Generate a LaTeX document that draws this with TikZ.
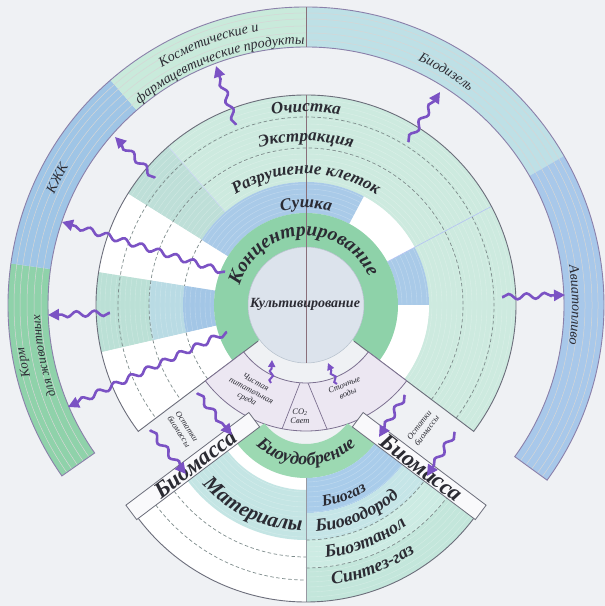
\documentclass[tikz,border=0pt]{standalone}
\usepackage{fontspec}
\setmainfont{Liberation Serif}
\usetikzlibrary{calc,decorations.pathmorphing,decorations.text,arrows.meta}

\definecolor{bg}{HTML}{EFF1F4}
\definecolor{lgreen}{HTML}{CDEADF}
\definecolor{teal1}{HTML}{BEDFD8}
\definecolor{tealA}{HTML}{BBE0D6}
\definecolor{tealB}{HTML}{B9DBE4}
\definecolor{sush}{HTML}{A9CAE8}
\definecolor{sushD}{HTML}{A3C6E6}
\definecolor{conc}{HTML}{8ED2A9}
\definecolor{inner}{HTML}{DCE3EC}
\definecolor{innerline}{HTML}{B5C0CC}
\definecolor{edge}{HTML}{6B6D7A}
\definecolor{arr}{HTML}{7B52C4}
\definecolor{boxf}{HTML}{ECE7F2}
\definecolor{boxd}{HTML}{7C7090}
\definecolor{bandline}{HTML}{8B80AA}
\definecolor{korm}{HTML}{8FD2AA}
\definecolor{kzhk}{HTML}{9FC5E6}
\definecolor{kosm}{HTML}{C9EADB}
\definecolor{biod}{HTML}{BEE0E6}
\definecolor{avia}{HTML}{A8C8EA}
\definecolor{udob}{HTML}{9CD9B2}
\definecolor{mat}{HTML}{C4E5E4}
\definecolor{gaz}{HTML}{A9CCEA}
\definecolor{vod}{HTML}{C5E5E7}
\definecolor{etan}{HTML}{CCEBE3}
\definecolor{sint}{HTML}{C3E6DB}
\definecolor{txt}{HTML}{2B2B33}
\definecolor{vl}{HTML}{8A6F7A}
\definecolor{dsh}{HTML}{7E8C8C}

\newcommand\annsec[6]{\path[#1] ($(#2)+(#3:#5)$) arc[start angle=#3,end angle=#4,radius=#5] -- ($(#2)+(#4:#6)$) arc[start angle=#4,end angle=#3,radius=#6] -- cycle;}
\newcommand\arctxt[6]{\path[decorate,decoration={text along path,text align=center,text color=txt,text={|#5|#6}}] ($(#1)+(#3:#2)$) arc[start angle=#3,end angle=#4,radius=#2];}

\newcommand\fntRing{\fontsize{17}{17}\selectfont\bfseries\itshape}
\newcommand\fntConc{\fontsize{19.5}{19.5}\selectfont\bfseries\itshape}
\newcommand\fntBand{\fontsize{14}{14}\selectfont\itshape}
\newcommand\fntKorm{\fontsize{13}{13}\selectfont\itshape}
\newcommand\fntBot{\fontsize{18}{18}\selectfont\bfseries\itshape}
\newcommand\fntGaz{\fontsize{16}{16}\selectfont\bfseries\itshape}
\newcommand\fntMat{\fontsize{21}{21}\selectfont\bfseries\itshape}
\newcommand\fntBio{\fontsize{23}{23}\selectfont\bfseries\itshape}
\newcommand\fntSmall{\fontsize{8.5}{9.5}\selectfont\itshape}
\newcommand\fntKult{\fontsize{14}{14}\selectfont\bfseries\itshape}

\tikzset{
  wavy/.style={draw=arr, line width=2.6pt, decorate,
    decoration={snake, amplitude=2.8pt, segment length=18pt, post length=8pt, pre length=1pt},
    -{Triangle[length=11pt,width=11pt]}},
  wavys/.style={draw=arr, line width=2pt, decorate,
    decoration={snake, amplitude=1.8pt, segment length=9pt, post length=5pt},
    -{Triangle[length=7pt,width=7pt]}},
  dshline/.style={draw=dsh, line width=0.7pt, dash pattern=on 3.5pt off 2.5pt},
  biobox/.style={fill=white!60!bg, draw=edge, line width=0.8pt},
  smalltxt/.style={font=\fntSmall, text=txt, align=center, inner sep=0pt},
}

\begin{document}
\begin{tikzpicture}[x=1pt,y=1pt]
\useasboundingbox (0,0) rectangle (605,606);
\fill[bg] (0,0) rectangle (605,606);
\coordinate (O) at (306,301);
\coordinate (C2) at (306,214);

% ---------- outer product band ----------
\annsec{fill=korm}{O}{172}{215}{258}{298}
\annsec{fill=kzhk}{O}{131}{172}{258}{298}
\annsec{fill=kosm}{O}{90}{131}{258}{298}
\annsec{fill=biod}{O}{30}{90}{258}{298}
\annsec{fill=avia}{O}{-36}{30}{258}{298}
\foreach \r in {265,272,279,286,292}
  \draw[black!16, line width=0.5pt] ($(O)+(-36:\r)$) arc[start angle=-36,end angle=215,radius=\r];
\annsec{draw=bandline, line width=0.9pt}{O}{-36}{215}{258}{298}
\draw[vl, line width=0.7pt] ($(O)+(90:258)$) -- ($(O)+(90:298)$);

% ---------- middle fan ----------
\annsec{fill=lgreen}{O}{-37}{131}{123}{210}
\annsec{fill=teal1}{O}{131}{148}{123}{210}
\annsec{fill=white}{O}{148}{171}{92}{210}
\annsec{fill=tealA}{O}{171}{193}{157}{210}
\annsec{fill=tealB}{O}{171}{193}{123}{157}
\annsec{fill=sushD}{O}{171}{193}{92}{123}
\annsec{fill=white}{O}{193}{217}{92}{210}
\annsec{fill=white}{O}{-37}{0}{92}{123}
\annsec{fill=sush}{O}{0}{28}{92}{123}
\annsec{fill=white}{O}{28}{62}{92}{123}
\annsec{fill=sush}{O}{62}{148}{92}{123}
\foreach \r in {96,101,...,206}
  \draw[white, opacity=0.28, line width=0.4pt] ($(O)+(-37:\r)$) arc[start angle=-37,end angle=217,radius=\r];
\annsec{fill=conc}{O}{-37}{217}{58}{92}
\fill[inner, draw=innerline, line width=0.5pt] (O) circle[radius=58];

\draw[dshline] ($(O)+(-37:157)$) arc[start angle=-37,end angle=217,radius=157];
\draw[dshline] ($(O)+(-37:188)$) arc[start angle=-37,end angle=217,radius=188];
\draw[dshline] ($(O)+(148:123)$) arc[start angle=148,end angle=171,radius=123];
\draw[dshline] ($(O)+(193:123)$) arc[start angle=193,end angle=217,radius=123];

\draw[draw=tealB!70!blue!60, line width=0.6pt] ($(O)+(28:92)$) -- ($(O)+(28:210)$);
\draw[draw=tealB!70!blue!40, line width=0.5pt] ($(O)+(131:123)$) -- ($(O)+(131:210)$);

\draw[edge, line width=0.9pt] ($(O)+(-37:60)$) -- ($(O)+(-37:210)$)
  arc[start angle=-37,end angle=217,radius=210] -- ($(O)+(217:60)$);
\draw[vl, line width=0.7pt] ($(O)+(90:210)$) -- ($(O)+(270:58)$);

% ---------- inputs box ----------
\annsec{fill=boxf, draw=boxd, line width=0.8pt}{O}{217}{323}{78}{126}
\draw[boxd, line width=0.7pt] ($(O)+(-6,-78)$) -- ($(O)+(-24,-124)$);
\draw[boxd, line width=0.7pt] ($(O)+(2,-78)$) -- ($(O)+(21,-124)$);

% ---------- bottom fan ----------
\annsec{fill=white}{C2}{217}{323}{86}{210}
\annsec{fill=udob}{C2}{217}{323}{52}{86}
\annsec{fill=mat}{C2}{217}{270}{98}{148}
\annsec{fill=gaz}{C2}{270}{323}{86}{121}
\annsec{fill=vod}{C2}{270}{323}{121}{148}
\annsec{fill=etan}{C2}{270}{323}{148}{176}
\annsec{fill=sint}{C2}{270}{323}{176}{210}
\foreach \r in {90,95,...,206}
  \draw[white, opacity=0.28, line width=0.4pt] ($(C2)+(217:\r)$) arc[start angle=217,end angle=323,radius=\r];
\draw[dshline] ($(C2)+(217:165)$) arc[start angle=217,end angle=270,radius=165];
\draw[dshline] ($(C2)+(217:188)$) arc[start angle=217,end angle=270,radius=188];
\draw[dshline] ($(C2)+(270:148)$) arc[start angle=270,end angle=323,radius=148];
\draw[dshline] ($(C2)+(270:176)$) arc[start angle=270,end angle=323,radius=176];
\draw[draw=edge!70, line width=0.7pt] ($(C2)+(270:86)$) -- ($(C2)+(270:210)$);
\draw[edge, line width=0.9pt] ($(C2)+(217:210)$) arc[start angle=217,end angle=323,radius=210];

% Biomass boxes
\begin{scope}[shift={(C2)}, rotate=217]
  \draw[biobox] (58,0) rectangle (212,-18);
  \node[name=bmL, transform shape, rotate=180, font=\fntBio, text=txt, inner sep=0pt] at (132,-9) {Биомасса};
\end{scope}
\begin{scope}[shift={(C2)}, rotate=323]
  \draw[biobox] (58,0) rectangle (212,18);
  \node[name=bmR, transform shape, font=\fntBio, text=txt, inner sep=0pt] at (138,9) {Биомасса};
\end{scope}

% ---------- texts on arcs ----------
\arctxt{O}{193}{130}{50}{\fntRing}{Очистка}
\arctxt{O}{164}{135}{45}{\fntRing}{Экстракция}
\arctxt{O}{131}{150}{30}{\fntRing}{Разрушение клеток}
\arctxt{O}{97}{130}{50}{\fntRing}{Сушка}
\arctxt{O}{69}{178}{10}{\fntConc}{Концентрирование}
\arctxt{O}{278}{135.5}{85.5}{\fntBand}{Косметические и}
\arctxt{O}{261}{140}{80}{\fntBand}{фармацевтические продукты}
\arctxt{O}{269}{84}{34}{\fntBand}{Биодизель}
\arctxt{O}{275}{168}{138}{\fntBand}{КЖК}
\arctxt{O}{285}{206.5}{176.5}{\fntKorm}{Корм}
\arctxt{O}{266}{211}{171}{\fntKorm}{для животных}
\arctxt{O}{266}{25}{-25}{\fntBand}{Авиатопливо}

\arctxt{C2}{73}{215}{325}{\fntBot}{Биоудобрение}
\arctxt{C2}{139}{217}{273}{\fntMat}{Материалы}
\arctxt{C2}{116}{268}{312}{\fntGaz}{Биогаз}
\arctxt{C2}{140}{268}{318}{\fntBot}{Биоводород}
\arctxt{C2}{167}{270}{314}{\fntBot}{Биоэтанол}
\arctxt{C2}{194}{271}{311}{\fntBot}{Синтез-газ}

% ---------- plain texts ----------
\node[name=kult, font=\fntKult, text=txt] at (305,302) {Культивирование};
\node[name=sreda, smalltxt, rotate=-28] at (251,215) {Чистая\\питательная\\среда};
\node[name=co2, smalltxt] at (300,190) {CO\textsubscript{2}\\Свет};
\node[name=stok, smalltxt, rotate=22] at (346,217) {Сточные\\воды};
\node[name=ostL, smalltxt, rotate=-57] at (183,177) {Остатки\\биомассы};
\node[name=ostR, smalltxt, rotate=53] at (423,178) {Остатки\\биомассы};

% ---------- wavy arrows ----------
\coordinate (a1s) at (236,481); \coordinate (a1e) at (216,540);
\coordinate (a2s) at (408,464); \coordinate (a2e) at (440,514);
\coordinate (a3s) at (155,428); \coordinate (a3e) at (115,469);
\coordinate (a4s) at (225,334); \coordinate (a4e) at (62,384);
\coordinate (a5s) at (110,293); \coordinate (a5e) at (48,291);
\coordinate (a6s) at (227,274); \coordinate (a6e) at (68,199);
\coordinate (a7s) at (502,309); \coordinate (a7e) at (565,311);
\coordinate (a8s) at (271,223); \coordinate (a8e) at (272,246);
\coordinate (a9s) at (337,222); \coordinate (a9e) at (328,243);
\coordinate (a10s) at (197,213); \coordinate (a10e) at (232,171);
\coordinate (a11s) at (150,176); \coordinate (a11e) at (186,132);
\coordinate (a12s) at (405,211); \coordinate (a12e) at (379,169);
\coordinate (a13s) at (455,174); \coordinate (a13e) at (427,130);

\foreach \s/\e in {a1s/a1e,a2s/a2e,a3s/a3e,a4s/a4e,a5s/a5e,a6s/a6e,a7s/a7e,a10s/a10e,a11s/a11e,a12s/a12e,a13s/a13e}
  \draw[wavy] (\s) -- (\e);
\draw[wavys] (a8s) -- (a8e);
\draw[wavys] (a9s) -- (a9e);
\end{tikzpicture}
\end{document}
